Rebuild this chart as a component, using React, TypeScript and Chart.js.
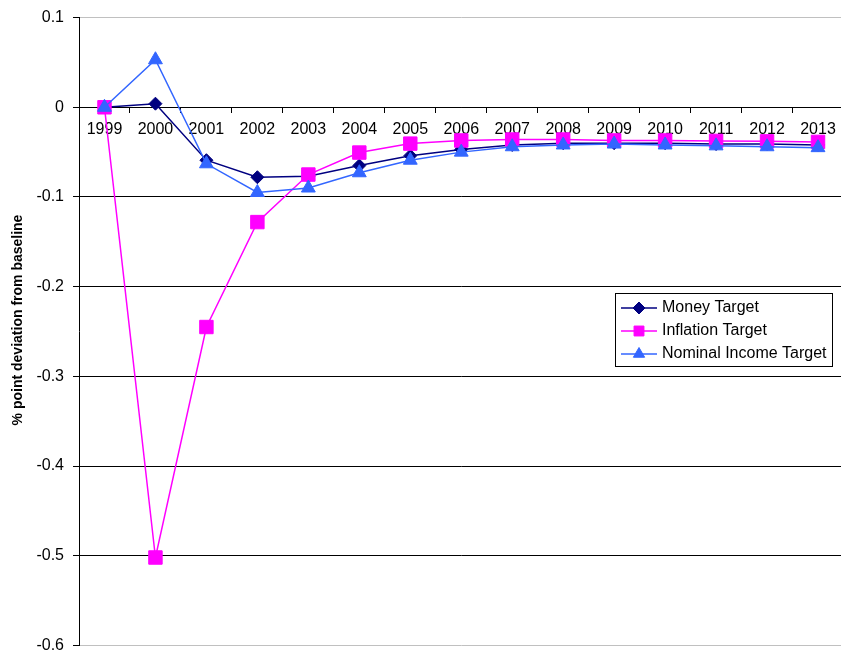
import React, { useEffect, useRef } from 'react';
import { Chart, registerables } from 'chart.js';
import { drawPoint } from 'chart.js/helpers';

Chart.register(...registerables);

// Years on the category axis
const years = ['1999', '2000', '2001', '2002', '2003', '2004', '2005', '2006', '2007', '2008', '2009', '2010', '2011', '2012', '2013'];

// % point deviation from baseline, per policy rule
const moneyTarget = [0, 0.004, -0.059, -0.078, -0.077, -0.065, -0.054, -0.047, -0.042, -0.040, -0.040, -0.040, -0.041, -0.041, -0.042];
const inflationTarget = [0, -0.502, -0.245, -0.128, -0.075, -0.0505, -0.0405, -0.037, -0.036, -0.036, -0.037, -0.037, -0.0375, -0.038, -0.0386];
const nominalIncomeTarget = [0, 0.053, -0.063, -0.095, -0.090, -0.073, -0.059, -0.050, -0.044, -0.042, -0.041, -0.042, -0.043, -0.044, -0.045];

// Value axis range
const yMin = -0.6;
const yMax = 0.1;
const yStep = 0.1;

const yAxisTitle = '% point deviation from baseline';

const FONT = "'Liberation Sans', Arial, Helvetica, sans-serif";
const CANVAS_W = 854;
const CANVAS_H = 665;

const legendMarkerRadius = [6, 7, 6.5];

// Boxed legend drawn inside the plot area, to the right
const boxLegend = {
  id: 'boxLegend',
  afterDraw(chart: any) {
    const ctx = chart.ctx as CanvasRenderingContext2D;
    const bx = 615;
    const by = 294;
    const bw = 217;
    const bh = 73;
    ctx.save();
    ctx.fillStyle = '#ffffff';
    ctx.fillRect(bx, by, bw, bh);
    ctx.strokeStyle = '#000000';
    ctx.lineWidth = 1;
    ctx.strokeRect(bx + 0.5, by + 0.5, bw, bh);
    chart.data.datasets.forEach((ds: any, i: number) => {
      const cy = 309 + i * 23;
      ctx.strokeStyle = ds.borderColor;
      ctx.lineWidth = 1.5;
      ctx.beginPath();
      ctx.moveTo(621, cy);
      ctx.lineTo(657, cy);
      ctx.stroke();
      ctx.fillStyle = ds.pointBackgroundColor;
      ctx.strokeStyle = ds.pointBorderColor;
      ctx.lineWidth = 1;
      drawPoint(ctx, { pointStyle: ds.pointStyle, radius: legendMarkerRadius[i], rotation: 0, borderWidth: 1 } as any, 639, cy);
      ctx.fillStyle = '#000000';
      ctx.font = `16px ${FONT}`;
      ctx.textAlign = 'left';
      ctx.textBaseline = 'middle';
      ctx.fillText(ds.label, 662, cy);
    });
    ctx.restore();
  },
};

// Rotated value-axis title at the left edge
const valueAxisTitle = {
  id: 'valueAxisTitle',
  afterDraw(chart: any) {
    const ctx = chart.ctx as CanvasRenderingContext2D;
    ctx.save();
    ctx.translate(18.5, 321);
    ctx.rotate(-Math.PI / 2);
    ctx.fillStyle = '#000000';
    ctx.font = `bold 14px ${FONT}`;
    ctx.textAlign = 'center';
    ctx.textBaseline = 'middle';
    ctx.fillText(yAxisTitle, 0, 0);
    ctx.restore();
  },
};

export default function App() {
  const canvasRef = useRef<HTMLCanvasElement | null>(null);

  useEffect(() => {
    const canvas = canvasRef.current;
    if (!canvas) return;

    const isEdge = (v: number) => Math.abs(v - yMax) < 1e-9 || Math.abs(v - yMin) < 1e-9;

    const chart = new Chart(canvas, {
      type: 'line',
      data: {
        labels: years,
        datasets: [
          {
            label: 'Money Target',
            data: moneyTarget,
            borderColor: '#000080',
            backgroundColor: '#000080',
            pointBackgroundColor: '#000080',
            pointBorderColor: '#000080',
            pointStyle: 'rectRot',
            pointRadius: 6.5,
            pointBorderWidth: 1,
            borderWidth: 1.5,
            tension: 0,
            order: 2,
          },
          {
            label: 'Inflation Target',
            data: inflationTarget,
            borderColor: '#ff00ff',
            backgroundColor: '#ff00ff',
            pointBackgroundColor: '#ff00ff',
            pointBorderColor: '#ff00ff',
            pointStyle: 'rect',
            pointRadius: 9.5,
            pointBorderWidth: 1,
            borderWidth: 1.5,
            tension: 0,
            order: 1,
          },
          {
            label: 'Nominal Income Target',
            data: nominalIncomeTarget,
            borderColor: '#3366ff',
            backgroundColor: '#3366ff',
            pointBackgroundColor: '#3366ff',
            pointBorderColor: '#3366ff',
            pointStyle: 'triangle',
            pointRadius: 8,
            pointBorderWidth: 1,
            borderWidth: 1.5,
            tension: 0,
            order: 0,
          },
        ],
      },
      options: {
        responsive: false,
        animation: false,
        layout: { padding: { left: 0, right: 0, top: 15, bottom: 10 } },
        plugins: {
          legend: { display: false },
          tooltip: { enabled: false },
          title: { display: false },
        },
        scales: {
          x: {
            type: 'category',
            position: { y: 0 },
            offset: true,
            grid: {
              offset: true,
              drawOnChartArea: false,
              drawTicks: true,
              tickLength: 5,
              color: '#000000',
              lineWidth: 1,
            },
            border: { color: '#000000', width: 1 },
            ticks: {
              color: '#000000',
              font: { family: FONT, size: 16 },
              padding: 8,
              autoSkip: false,
              maxRotation: 0,
              minRotation: 0,
            },
            afterFit: (scale: any) => {
              scale.height = 0;
            },
          },
          y: {
            type: 'linear',
            position: 'left',
            min: yMin,
            max: yMax,
            ticks: {
              stepSize: yStep,
              color: '#000000',
              font: { family: FONT, size: 16 },
              padding: 9,
              callback: (v: any) => String(Math.round(Number(v) * 10) / 10),
            },
            grid: {
              color: (ctx: any) => (ctx.tick && isEdge(ctx.tick.value) ? '#c0c0c0' : '#000000'),
              tickColor: '#000000',
              tickLength: 6,
              lineWidth: 1,
            },
            border: { color: '#000000', width: 1 },
            title: { display: false },
            afterFit: (scale: any) => {
              scale.width = 79;
            },
          },
        },
      },
      plugins: [boxLegend, valueAxisTitle],
    } as any);

    return () => chart.destroy();
  }, []);

  return (
    <div style={{ position: 'absolute', left: 0, top: 0, width: 841, height: 656, overflow: 'hidden', background: '#ffffff' }}>
      <canvas
        ref={canvasRef}
        width={CANVAS_W}
        height={CANVAS_H}
        style={{ display: 'block', position: 'absolute', left: 0, top: -1, width: CANVAS_W, height: CANVAS_H }}
      />
    </div>
  );
}
